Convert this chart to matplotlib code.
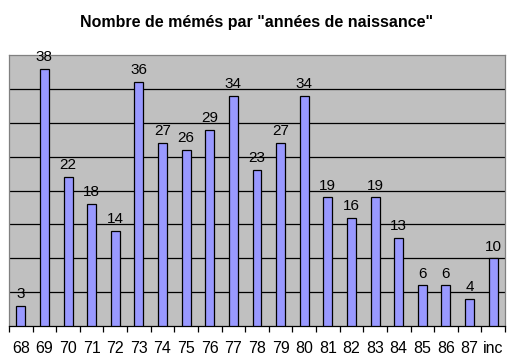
import matplotlib.pyplot as plt
import numpy as np

years = ["68", "69", "70", "71", "72", "73", "74", "75", "76", "77",
         "78", "79", "80", "81", "82", "83", "84", "85", "86", "87", "inc"]
counts = [3, 38, 22, 18, 14, 36, 27, 26, 29, 34,
          23, 27, 34, 19, 16, 19, 13, 6, 6, 4, 10]

plt.rcParams["font.family"] = ["Liberation Sans", "DejaVu Sans"]

fig = plt.figure(figsize=(5.14, 3.62), dpi=100)
ax = fig.add_axes([9 / 514, 36 / 362, 496 / 514, 271 / 362])
ax.set_facecolor("#c0c0c0")

x = np.arange(len(years))
ax.bar(x, counts, width=0.38, color="#9999ff", edgecolor="black",
       linewidth=0.9, zorder=3)

for xi, v in zip(x, counts):
    ax.text(xi, v + 0.7, str(v), ha="center", va="bottom", fontsize=11, zorder=4)

ax.set_xlim(-0.5, len(years) - 0.5)
ax.set_ylim(0, 40)
ax.set_yticks([])
for yv in range(5, 40, 5):
    ax.axhline(yv, color="black", linewidth=0.9, zorder=1)

ax.set_xticks(x)
ax.set_xticklabels(years, fontsize=11.5)
ax.set_xticks(np.arange(-0.5, len(years)), minor=True)
ax.tick_params(axis="x", which="major", length=0, pad=11)
ax.tick_params(axis="x", which="minor", length=4, width=0.9, direction="out")

for side in ["top", "left", "right"]:
    ax.spines[side].set_color("#808080")
    ax.spines[side].set_linewidth(0.9)
ax.spines["bottom"].set_color("black")
ax.spines["bottom"].set_linewidth(0.9)

fig.text(0.5, 1 - 22 / 362, 'Nombre de mémés par "années de naissance"',
         ha="center", va="center", fontsize=11.5, fontweight="bold")

fig.savefig("out.png", dpi=100)
